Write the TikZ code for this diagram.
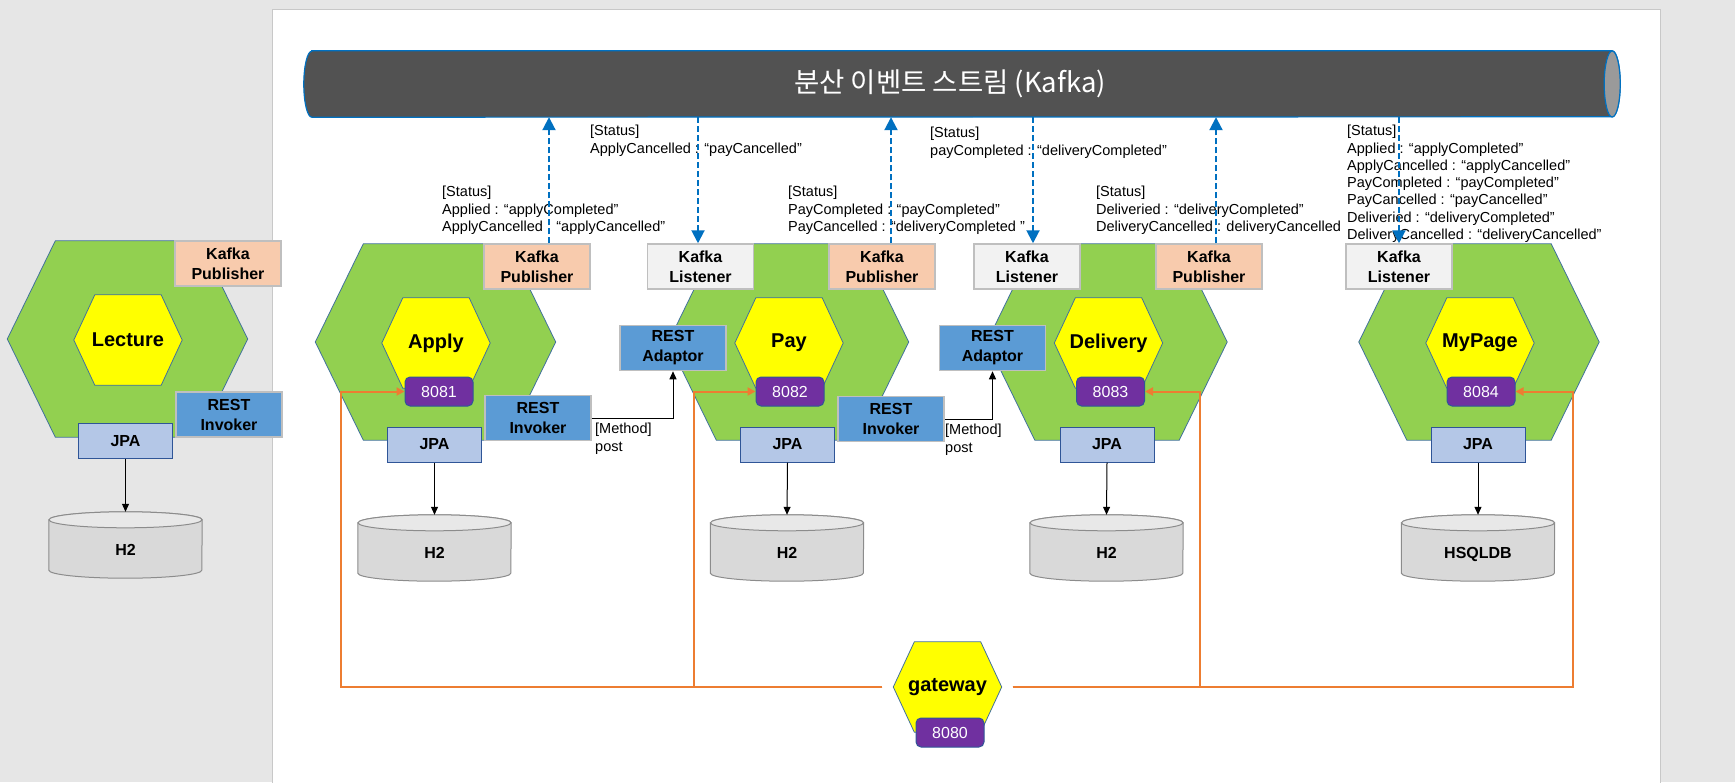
\documentclass[tikz,border=0pt]{standalone}
\usepackage{fontspec}
\setmainfont{Liberation Sans}
\newfontfamily\krfont{Noto Sans CJK KR}
\usetikzlibrary{arrows.meta}
\pgfdeclarelayer{bg}
\pgfsetlayers{bg,main}
\definecolor{bggray}{HTML}{E6E6E6}
\definecolor{pageborder}{HTML}{C8C8C8}
\definecolor{hexgreen}{HTML}{92D050}
\definecolor{hexline}{HTML}{41719C}
\definecolor{coreyellow}{HTML}{FFFF00}
\definecolor{pubfill}{HTML}{F8CBAD}
\definecolor{listfill}{HTML}{F2F2F2}
\definecolor{boxline}{HTML}{BFBFBF}
\definecolor{restfill}{HTML}{5B9BD5}
\definecolor{jpafill}{HTML}{B4C7E7}
\definecolor{jpaline}{HTML}{2F5597}
\definecolor{portfill}{HTML}{7030A0}
\definecolor{dbbody}{HTML}{D9D9D9}
\definecolor{dbtop}{HTML}{E8E8E8}
\definecolor{dbline}{HTML}{8C8C8C}
\definecolor{kafkabody}{HTML}{525252}
\definecolor{kafkacap}{HTML}{9A9A9A}
\definecolor{kafkaline}{HTML}{0070C0}
\definecolor{evblue}{HTML}{0070C0}
\definecolor{gworange}{HTML}{ED7D31}
\newcommand\hexpath[2]{(#1.west) -- ([xshift=#2]#1.north west) -- ([xshift=-#2]#1.north east) -- (#1.east) -- ([xshift=-#2]#1.south east) -- ([xshift=#2]#1.south west) -- cycle}
\newcommand\dbshape[1]{%
  \path[fill=dbbody,draw=dbline,line width=1pt] ([yshift=-8pt]#1.north west) -- ([yshift=8pt]#1.south west) arc[start angle=180,end angle=360,x radius=76.5pt,y radius=8pt] -- ([yshift=-8pt]#1.north east) arc[start angle=0,end angle=180,x radius=76.5pt,y radius=8pt] -- cycle;
  \path[fill=dbtop,draw=dbline,line width=1pt] ([yshift=-8pt]#1.north) ellipse[x radius=76.5pt,y radius=8pt];}
\tikzset{
  hexcell/.style={inner sep=0,minimum width=240pt,minimum height=196pt},
  coretxt/.style={inner sep=0,minimum width=108pt,minimum height=90pt,font=\bfseries\fontsize{20}{24}\selectfont},
  kbox/.style={draw=boxline,line width=1.5pt,inner sep=0,minimum width=106pt,minimum height=45pt,align=center,font=\bfseries\fontsize{16}{20}\selectfont},
  pubbox/.style={kbox,fill=pubfill},
  lstbox/.style={kbox,fill=listfill},
  restbox/.style={kbox,fill=restfill},
  jpabox/.style={draw=jpaline,line width=1pt,fill=jpafill,inner sep=0,minimum width=94pt,minimum height=35pt,font=\bfseries\fontsize{16}{20}\selectfont},
  portbox/.style={draw=jpaline,line width=1pt,fill=portfill,rounded corners=5pt,inner sep=0,minimum width=68pt,minimum height=29pt,text=white,font=\fontsize{16}{20}\selectfont},
  dbnode/.style={inner sep=0,minimum width=153pt,minimum height=66pt,text height=21pt,text depth=1pt,font=\bfseries\fontsize{16}{20}\selectfont},
  statustxt/.style={anchor=north west,inner sep=0,align=left,font=\fontsize{14.5}{17.3}\selectfont},
  gwline/.style={draw=gworange,line width=2pt,-{Triangle[length=8pt,width=8pt]}},
  blk/.style={draw=black,line width=1pt,-{Triangle[length=8pt,width=7pt]}},
  evt/.style={draw=evblue,line width=2pt,dash pattern=on 6pt off 3pt,-{Triangle[length=13pt,width=13pt]}}
}
\begin{document}
\begin{tikzpicture}[x=1pt,y=-1pt]
\useasboundingbox (0,0) rectangle (1735,782);
% Kafka bar
\node[inner sep=0,minimum width=1316pt,minimum height=66pt] (kafka) at (962,84) {};
\node[font=\krfont\fontsize{27.5}{32}\selectfont,text=white,inner sep=0] (kafkaTitle) at (950,84) {분산 이벤트 스트림 (Kafka)};
% Lecture
\node[hexcell] (lecHex) at (127.5,339) {};
\node[coretxt] (lecCore) at (128,340) {Lecture};
\node[pubbox] (lecPub) at (228,263.5) {Kafka\\Publisher};
\node[restbox] (lecInv) at (229,414.5) {REST\\Invoker};
\node[jpabox] (lecJpa) at (125.5,441) {JPA};
\node[dbnode] (lecDb) at (125.5,545) {H2};
% Apply
\node[hexcell] (appHex) at (435.5,342) {};
\node[coretxt] (appCore) at (436,343) {Apply};
\node[portbox] (p8081) at (439,391.5) {8081};
\node[pubbox] (appPub) at (537,266.5) {Kafka\\Publisher};
\node[restbox] (appInv) at (538,418) {REST\\Invoker};
\node[jpabox] (appJpa) at (434.5,444.5) {JPA};
\node[dbnode] (appDb) at (434.5,548) {H2};
% Pay
\node[hexcell] (payHex) at (788.5,342) {};
\node[coretxt] (payCore) at (789,343) {Pay};
\node[portbox] (p8082) at (790,391.5) {8082};
\node[lstbox] (payLst) at (700.5,266.5) {Kafka\\Listener};
\node[pubbox] (payPub) at (882,266.5) {Kafka\\Publisher};
\node[restbox] (payAd) at (673,348) {REST\\Adaptor};
\node[restbox] (payInv) at (891,419) {REST\\Invoker};
\node[jpabox] (payJpa) at (787.5,444.5) {JPA};
\node[dbnode] (payDb) at (787,548) {H2};
% Delivery
\node[hexcell] (delHex) at (1107,342) {};
\node[coretxt] (delCore) at (1108.5,343) {Delivery};
\node[portbox] (p8083) at (1110.5,391.5) {8083};
\node[lstbox] (delLst) at (1027,266.5) {Kafka\\Listener};
\node[pubbox] (delPub) at (1209,266.5) {Kafka\\Publisher};
\node[restbox] (delAd) at (992.5,348) {REST\\Adaptor};
\node[jpabox] (delJpa) at (1107,444.5) {JPA};
\node[dbnode] (delDb) at (1106.5,548) {H2};
% MyPage
\node[hexcell] (myHex) at (1479,342) {};
\node[coretxt] (myCore) at (1480,343) {MyPage};
\node[portbox] (p8084) at (1481,391.5) {8084};
\node[lstbox] (myLst) at (1399,266.5) {Kafka\\Listener};
\node[jpabox] (myJpa) at (1478,444.5) {JPA};
\node[dbnode] (myDb) at (1478,548) {HSQLDB};
% gateway
\node[coretxt] (gw) at (947.5,687) {gateway};
\node[portbox] (p8080) at (950,732.5) {8080};

\begin{pgfonlayer}{bg}
  \fill[bggray] (0,0) rectangle (1735,782);
  \draw[fill=white,draw=pageborder,line width=1pt] (272,9) rectangle (1660,800);
  \path[fill=kafkabody,draw=kafkaline,line width=1.2pt] ([xshift=8pt]kafka.north west) -- ([xshift=-8pt]kafka.north east) arc[start angle=90,end angle=-90,x radius=8pt,y radius=33pt] -- ([xshift=8pt]kafka.south west) arc[start angle=270,end angle=90,x radius=8pt,y radius=33pt] -- cycle;
  \path[fill=kafkacap,draw=kafkaline,line width=1.2pt] ([xshift=-8pt]kafka.east) ellipse[x radius=8pt,y radius=33pt];
  \foreach \h in {lecHex,appHex,payHex,delHex,myHex}{
    \draw[fill=hexgreen,draw=hexline,line width=0.8pt] \hexpath{\h}{48pt};}
  \foreach \h in {lecCore,appCore,payCore,delCore,myCore,gw}{
    \draw[fill=coreyellow,draw=hexline,line width=0.8pt] \hexpath{\h}{21pt};}
  \foreach \d in {lecDb,appDb,payDb,delDb,myDb}{\dbshape{\d}}
\end{pgfonlayer}

% gateway routes
\coordinate (gwL) at ([xshift=-11pt]gw.west);
\coordinate (gwR) at ([xshift=11pt]gw.east);
\draw[gwline] (gwL) -| ([xshift=-64pt]p8081.west) -- (p8081.west);
\draw[gwline] (gwL) -| ([xshift=-62pt]p8082.west) -- (p8082.west);
\draw[gwline] (gwR) -| ([xshift=55pt]p8083.east) -- (p8083.east);
\draw[gwline] (gwR) -| ([xshift=57pt]p8084.east) -- (p8084.east);

% JPA -> DB, REST calls
\foreach \a/\b in {lecJpa/lecDb,appJpa/appDb,payJpa/payDb,delJpa/delDb,myJpa/myDb}{
  \draw[blk] (\a.south) -- (\b.north);}
\draw[blk] (appInv.east) -| (payAd.south);
\draw[blk] (payInv.east) -| (delAd.south);
\node[statustxt] (appMethod) at (595,423) {[Method]\\post};
\node[statustxt] (payMethod) at (945,424) {[Method]\\post};

% status labels
\node[statustxt] (appStatus) at (442,186) {[Status]\\Applied : “applyCompleted”\\ApplyCancelled : “applyCancelled”};
\node[statustxt] (payLstStatus) at (590,125) {[Status]\\ApplyCancelled : “payCancelled"};
\node[statustxt] (payPubStatus) at (788,186) {[Status]\\PayCompleted : “payCompleted”\\PayCancelled : “deliveryCompleted "};
\node[statustxt] (delLstStatus) at (930,127) {[Status]\\payCompleted : “deliveryCompleted"};
\node[statustxt] (delPubStatus) at (1096,186) {[Status]\\Deliveried : “deliveryCompleted”\\DeliveryCancelled : deliveryCancelled};
\node[statustxt] (myStatus) at (1347,125) {[Status]\\Applied : “applyCompleted”\\ApplyCancelled : “applyCancelled”\\PayCompleted : “payCompleted”\\PayCancelled : “payCancelled”\\Deliveried : “deliveryCompleted”\\DeliveryCancelled : “deliveryCancelled”};

% event arrows
\coordinate (e1) at ([xshift=12pt]appPub.north);
\coordinate (e2) at ([xshift=-2.5pt]payLst.north);
\coordinate (e3) at ([xshift=9pt]payPub.north);
\coordinate (e4) at ([xshift=6pt]delLst.north);
\coordinate (e5) at ([xshift=7pt]delPub.north);
\coordinate (e6) at (myLst.north);
\draw[evt] (e1) -- (e1 |- kafka.south);
\draw[evt] (e2 |- kafka.south) -- (e2);
\draw[evt] (e3) -- (e3 |- kafka.south);
\draw[evt] (e4 |- kafka.south) -- (e4);
\draw[evt] (e5) -- (e5 |- kafka.south);
\draw[evt] (e6 |- kafka.south) -- (e6);
\end{tikzpicture}
\end{document}
